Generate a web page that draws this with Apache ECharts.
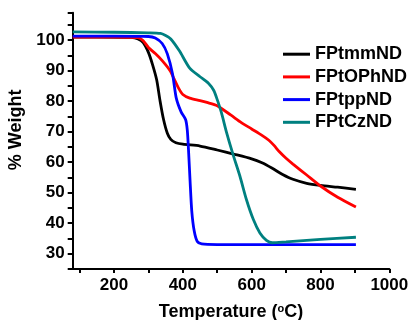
<!DOCTYPE html>
<html>
<head>
<meta charset="utf-8">
<script src="https://cdn.jsdelivr.net/npm/echarts@6/dist/echarts.min.js"></script>
<style>html,body{margin:0;padding:0;background:#fff}#c{width:411px;height:320px}</style>
</head>
<body>
<div id="c"></div>
<script>
const seriesNames = ['FPtmmND', 'FPtOPhND', 'FPtppND', 'FPtCzND'];
const seriesColors = ['#000000', '#ff0000', '#0000ff', '#008080'];

const blackT = [80, 150, 250, 270, 285, 300, 312, 324, 334, 344, 355, 365, 380, 400, 450, 500, 550, 600, 630, 660, 690, 720, 760, 800, 850, 903];
const blackW = [101, 101, 100.9, 100.4, 99.2, 96, 92, 87, 80, 74, 69.5, 67.5, 66.4, 65.9, 65.3, 64.0, 62.6, 61.1, 59.8, 58, 56, 54.4, 53.1, 52.4, 51.8, 51.1];

const redT = [80, 200, 270, 285, 300, 320, 340, 363, 375, 388, 400, 420, 450, 470, 500, 540, 570, 600, 630, 650, 665, 680, 700, 720, 760, 800, 850, 903];
const redW = [101, 101, 100.8, 99.8, 97.6, 95.6, 93.3, 90, 87.2, 84.2, 82.2, 81, 80.2, 79.6, 78.5, 75.4, 73, 70.9, 68.8, 67.2, 65.5, 63.5, 61.3, 59.4, 55.8, 52.2, 48.5, 45.3];

const blueT = [80, 200, 300, 320, 340, 355, 370, 381, 395, 408, 413, 417, 421, 426, 433, 442, 455, 500, 700, 903];
const blueW = [101.3, 101.3, 101.2, 100.7, 98.9, 95.5, 89, 81, 76.5, 74, 70.5, 63, 54, 44, 37.5, 34, 33.2, 33, 33, 33];

const tealT = [80, 200, 300, 335, 350, 365, 390, 420, 450, 475, 490, 500, 512, 527, 546, 566, 585, 605, 624, 643, 660, 700, 800, 903];
const tealW = [102.7, 102.6, 102.4, 102.2, 101.5, 100.4, 96.5, 90.8, 88, 85.8, 83.5, 80.5, 76.3, 69.8, 62.5, 55.4, 47.7, 41.2, 36.8, 34.4, 33.6, 33.9, 34.7, 35.4];

const xTickLabels = [200, 400, 600, 800, 1000];
const yTickLabels = [30, 40, 50, 60, 70, 80, 90, 100];

const allT = [blackT, redT, blueT, tealT];
const allW = [blackW, redW, blueW, tealW];

const FONT = 'Liberation Sans';
const X_MIN = 80, X_MAX = 1000, X_TICK_START = 100;
const G_LEFT = 72.7, G_RIGHT = 21.7, G_TOP = 12.7, G_BOTTOM = 51;
const plotW = 411 - G_LEFT - G_RIGHT;
const tickGridLeft = G_LEFT + (X_TICK_START - X_MIN) / (X_MAX - X_MIN) * plotW;

const chart = echarts.init(document.getElementById('c'), null, {renderer: 'canvas'});

const series = seriesNames.map((name, i) => ({
  name: name,
  type: 'line',
  xAxisIndex: 0,
  yAxisIndex: 0,
  data: allT[i].map((t, j) => [t, allW[i][j]]),
  smooth: 0.25,
  showSymbol: false,
  symbol: 'none',
  lineStyle: {color: seriesColors[i], width: 2.8},
  itemStyle: {color: seriesColors[i]},
  z: 2 + i
}));

const labelStyle = {fontFamily: FONT, fontWeight: 'bold', fontSize: 17, color: '#000'};

chart.setOption({
  animation: false,
  backgroundColor: '#fff',
  grid: [
    {left: G_LEFT, right: G_RIGHT, top: G_TOP, bottom: G_BOTTOM, containLabel: false, outerBoundsMode: 'none'},
    {left: tickGridLeft, right: G_RIGHT, top: G_TOP, bottom: G_BOTTOM, containLabel: false, outerBoundsMode: 'none'}
  ],
  legend: {
    orient: 'vertical',
    left: 278,
    top: 40.2,
    itemWidth: 27,
    itemHeight: 3,
    itemGap: 4.7,
    icon: 'rect',
    textStyle: {fontFamily: FONT, fontWeight: 'bold', fontSize: 18, color: '#000'},
    data: seriesNames
  },
  xAxis: [
    {
      gridIndex: 0,
      type: 'value',
      min: X_MIN,
      max: X_MAX,
      name: 'Temperature ({sup|o}C)',
      nameLocation: 'middle',
      nameGap: 34,
      nameTextStyle: {
        fontFamily: FONT, fontWeight: 'bold', fontSize: 18, color: '#000',
        rich: {sup: {fontFamily: FONT, fontWeight: 'bold', fontSize: 11, color: '#000', verticalAlign: 'top', padding: [0, 0, 7, 0]}}
      },
      splitLine: {show: false},
      axisLine: {show: true, onZero: false, lineStyle: {color: '#000', width: 2}},
      axisTick: {show: false},
      axisLabel: {show: false}
    },
    {
      gridIndex: 1,
      type: 'value',
      min: X_TICK_START,
      max: X_MAX,
      interval: 100,
      splitLine: {show: false},
      axisLine: {show: false, onZero: false},
      axisTick: {show: true, inside: false, length: 4, lineStyle: {color: '#000', width: 2}},
      axisLabel: Object.assign({margin: 8, formatter: v => xTickLabels.includes(v) ? String(v) : ''}, labelStyle)
    }
  ],
  yAxis: [
    {
      gridIndex: 0,
      type: 'value',
      min: 25,
      max: 109,
      interval: 5,
      name: '% Weight',
      nameLocation: 'middle',
      nameGap: 41,
      nameTextStyle: {fontFamily: FONT, fontWeight: 'bold', fontSize: 18, color: '#000', padding: [0, 0, 0, 22]},
      splitLine: {show: false},
      axisLine: {show: true, onZero: false, lineStyle: {color: '#000', width: 2}},
      axisTick: {show: true, inside: false, length: 5, lineStyle: {color: '#000', width: 2}},
      axisLabel: Object.assign({margin: 8, formatter: v => yTickLabels.includes(v) ? String(v) : ''}, labelStyle)
    },
    {
      gridIndex: 1,
      type: 'value',
      min: 25,
      max: 109,
      show: false
    }
  ],
  series: series
});
</script>
</body>
</html>
